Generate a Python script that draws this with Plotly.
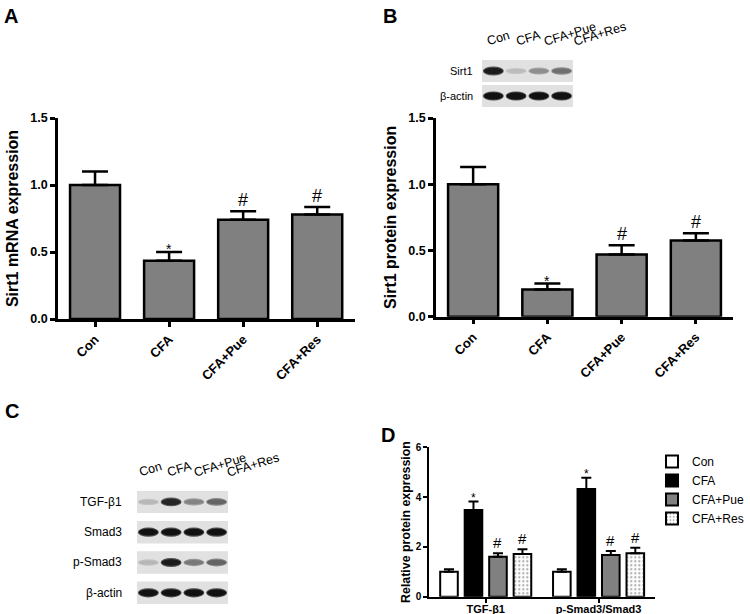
import plotly.graph_objects as go

FONT = "Liberation Sans, Arial, sans-serif"

# ---------------- data ----------------
groups = ["Con", "CFA", "CFA+Pue", "CFA+Res"]

mrna_mean = [1.00, 0.435, 0.74, 0.78]
mrna_err = [0.10, 0.065, 0.065, 0.055]
mrna_sig = ["", "*", "#", "#"]

prot_mean = [1.00, 0.205, 0.47, 0.575]
prot_err = [0.13, 0.045, 0.07, 0.055]
prot_sig = ["", "*", "#", "#"]

d_categories = ["TGF-β1", "p-Smad3/Smad3"]
d_mean = {
    "Con": [1.00, 1.00],
    "CFA": [3.48, 4.33],
    "CFA+Pue": [1.60, 1.67],
    "CFA+Res": [1.71, 1.74],
}
d_err = {
    "Con": [0.10, 0.10],
    "CFA": [0.34, 0.45],
    "CFA+Pue": [0.14, 0.17],
    "CFA+Res": [0.20, 0.23],
}
d_sig = {"Con": "", "CFA": "*", "CFA+Pue": "#", "CFA+Res": "#"}

blotB_rows = ["Sirt1", "β-actin"]
blotB_band = [[0.95, 0.18, 0.40, 0.55],
              [1.00, 1.00, 1.00, 1.00]]
blotC_rows = ["TGF-β1", "Smad3", "p-Smad3", "β-actin"]
blotC_band = [[0.20, 0.90, 0.45, 0.60],
              [1.00, 1.00, 1.00, 1.00],
              [0.20, 0.95, 0.50, 0.60],
              [1.00, 1.00, 1.00, 1.00]]

# ---------------- figure ----------------
W, H = 750, 614
def px_x(a, b):
    return [a / W, b / W]
def px_y(top, bottom):
    return [1 - bottom / H, 1 - top / H]

fig = go.Figure()
annotations = []
shapes = []

bar_line = dict(color="black", width=2.5)

def add_simple_bars(mean, err, sig, xa, ya):
    fig.add_trace(go.Bar(
        x=groups, y=mean, width=0.675,
        marker=dict(color="#808080", line=bar_line),
        error_y=dict(type="data", array=err, arrayminus=[0] * len(err), symmetric=False,
                     color="black", thickness=2.5, width=13),
        showlegend=False, xaxis=xa, yaxis=ya, hoverinfo="skip"))
    for g, m, e, s in zip(groups, mean, err, sig):
        if not s:
            continue
        annotations.append(dict(
            x=g, y=m + e, xref=xa, yref=ya, text=s, showarrow=False,
            yanchor="bottom", yshift=(-7 if s == "*" else -1),
            font=dict(family=FONT, size=(14 if s == "*" else 18), color="black")))

add_simple_bars(mrna_mean, mrna_err, mrna_sig, "x", "y")
add_simple_bars(prot_mean, prot_err, prot_sig, "x2", "y2")

# ---------------- panel D ----------------
d_styles = {
    "Con": dict(color="white"),
    "CFA": dict(color="black"),
    "CFA+Pue": dict(color="#808080"),
    "CFA+Res": dict(color="white", pattern=dict(shape=".", fgcolor="#555555", bgcolor="white",
                                                size=4, solidity=0.25)),
}
slot = 0.217
bw = 0.156
for k, g in enumerate(groups):
    off = (k - 1.5) * slot
    fig.add_trace(go.Bar(
        x=d_categories, y=d_mean[g], name=g, width=bw, offset=off - bw / 2,
        marker=dict(line=dict(color="black", width=2), **d_styles[g]),
        error_y=dict(type="data", array=d_err[g], arrayminus=[0, 0], symmetric=False,
                     color="black", thickness=2, width=5),
        xaxis="x3", yaxis="y3", hoverinfo="skip"))
    if d_sig[g]:
        for ci in range(len(d_categories)):
            annotations.append(dict(
                x=ci + off, y=d_mean[g][ci] + d_err[g][ci], xref="x3", yref="y3",
                text=d_sig[g], showarrow=False, yanchor="bottom",
                yshift=(-5 if d_sig[g] == "*" else 0),
                font=dict(family=FONT, size=(12 if d_sig[g] == "*" else 15), color="black")))

# ---------------- blots ----------------
def add_blot(rows, bands, xa, ya, half, pxunit, label_size, label_gap, lane_shift):
    xr, yr = xa, ya
    n = len(groups)
    fig.add_trace(go.Scatter(x=list(range(n)), y=[0] * n, mode="markers",
                             marker=dict(opacity=0), showlegend=False,
                             xaxis=xa, yaxis=ya, hoverinfo="skip"))
    for r, (rname, vals) in enumerate(zip(rows, bands)):
        shapes.append(dict(type="rect", xref=xr, yref=yr, x0=-0.5, x1=n - 0.5,
                           y0=r - half, y1=r + half, fillcolor="#e1e1e1",
                           line=dict(width=0), layer="below"))
        for li, v in enumerate(vals):
            hpx = 1.6 + 1.8 * v
            g_out = round(225 - v * 150)
            g_in = round(225 - v * 208)
            shapes.append(dict(type="circle", xref=xr, yref=yr,
                               x0=li - 0.46, x1=li + 0.46,
                               y0=r - (hpx + 1.2) / pxunit, y1=r + (hpx + 1.2) / pxunit,
                               fillcolor=f"rgb({g_out},{g_out},{g_out})", line=dict(width=0)))
            shapes.append(dict(type="circle", xref=xr, yref=yr,
                               x0=li - 0.42, x1=li + 0.42,
                               y0=r - hpx / pxunit, y1=r + hpx / pxunit,
                               fillcolor=f"rgb({g_in},{g_in},{g_in})", line=dict(width=0)))
        annotations.append(dict(x=-0.5, y=r, xref=xr, yref=yr, text=rname, showarrow=False,
                                xanchor="right", yanchor="middle", xshift=-label_gap,
                                font=dict(family=FONT, size=label_size, color="black")))
    for li, g in enumerate(groups):
        annotations.append(dict(x=li, y=-half, xref=xr, yref=yr, text=g, showarrow=False,
                                xanchor="left", yanchor="bottom", textangle=-17,
                                xshift=lane_shift[li], yshift=9,
                                font=dict(family=FONT, size=12.5, color="black")))

add_blot(blotB_rows, blotB_band, "x4", "y4", 0.44, 25.0, 11, 7, [-10, -4, 1, 8])
add_blot(blotC_rows, blotC_band, "x5", "y5", 0.37, 30.3, 12, 13, [-13, -8, -4, 6])

# ---------------- panel letters ----------------
for letter, x, y in [("A", 2, 3), ("B", 381, 3), ("C", 3, 398), ("D", 379, 422)]:
    annotations.append(dict(x=x / W, y=1 - y / H, xref="paper", yref="paper", text=letter,
                            showarrow=False, xanchor="left", yanchor="top",
                            font=dict(family=FONT, size=20, color="black", weight="bold")))

# ---------------- axes ----------------
axis_common = dict(showline=True, linecolor="black", linewidth=2.5, ticks="outside",
                   tickcolor="black", tickwidth=2.5, ticklen=5, showgrid=False,
                   zeroline=False, mirror=False, automargin=False)
bold13 = dict(family=FONT, size=13, color="black", weight="bold")
boldy = dict(family=FONT, size=12.5, color="black", weight="bold")
title16 = dict(family=FONT, size=16, color="black", weight="bold")

layout_axes = dict(
    xaxis=dict(domain=px_x(58, 355), range=[-0.5, 3.51], tickangle=-45, tickfont=bold13,
               anchor="y", **axis_common),
    yaxis=dict(domain=px_y(118, 319), range=[0, 1.5], dtick=0.5, tickformat=".1f",
               tickfont=boldy, anchor="x",
               title=dict(text="Sirt1 mRNA expression", standoff=8, font=title16),
               **axis_common),
    xaxis2=dict(domain=px_x(436, 733), range=[-0.5, 3.5], tickangle=-45, tickfont=bold13,
                anchor="y2", **axis_common),
    yaxis2=dict(domain=px_y(118, 316.7), range=[0, 1.5], dtick=0.5, tickformat=".1f",
                tickfont=boldy, anchor="x2",
                title=dict(text="Sirt1 protein expression", standoff=8, font=title16),
                **axis_common),
    xaxis3=dict(domain=px_x(429.3, 655), range=[-0.5, 1.5], anchor="y3",
                tickfont=dict(family=FONT, size=11, color="black", weight="bold"),
                ticklabelstandoff=-3,
                **{**axis_common, "linewidth": 2, "tickwidth": 2, "ticklen": 4}),
    yaxis3=dict(domain=px_y(447.3, 596.7), range=[0, 6], dtick=2, anchor="x3",
                tickfont=dict(family=FONT, size=10, color="black", weight="bold"),
                title=dict(text="Relative protein expression", standoff=2,
                           font=dict(family=FONT, size=12.4, color="black", weight="bold")),
                **{**axis_common, "linewidth": 2, "tickwidth": 2, "ticklen": 4}),
    xaxis4=dict(domain=px_x(482, 573), range=[-0.5, 3.5], visible=False, anchor="y4",
                automargin=False),
    yaxis4=dict(domain=px_y(60, 107), range=[1.44, -0.44], visible=False, anchor="x4",
                automargin=False),
    xaxis5=dict(domain=px_x(137, 228), range=[-0.5, 3.5], visible=False, anchor="y5",
                automargin=False),
    yaxis5=dict(domain=px_y(490.7, 604), range=[3.37, -0.37], visible=False, anchor="x5",
                automargin=False),
)

fig.update_layout(
    width=W, height=H, margin=dict(l=0, r=0, t=0, b=0, autoexpand=False),
    paper_bgcolor="white", plot_bgcolor="white",
    barmode="overlay",
    font=dict(family=FONT, color="black"),
    showlegend=True,
    legend=dict(x=652 / W, y=1 - 447 / H, xanchor="left", yanchor="top",
                xref="container", yref="container",
                font=dict(family=FONT, size=12, color="black"),
                bgcolor="rgba(0,0,0,0)", tracegroupgap=0),
    annotations=annotations, shapes=shapes,
    **layout_axes,
)

fig.write_html("out.html", config={"displayModeBar": False},
               post_script="document.body.style.margin='0px';document.body.style.overflow='hidden';")
